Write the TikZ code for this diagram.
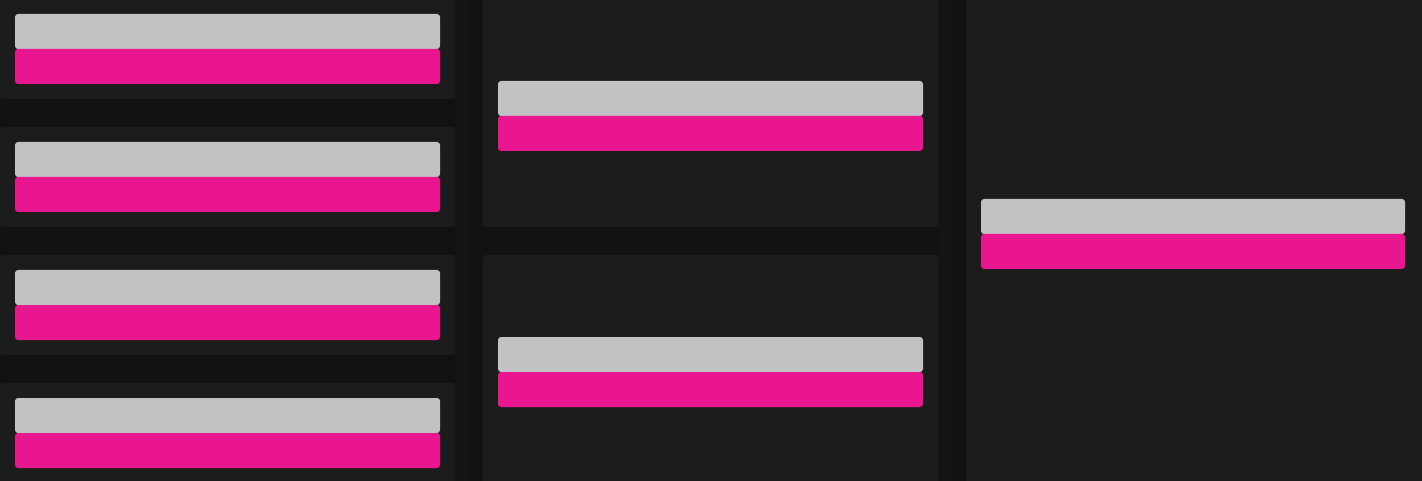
\documentclass[tikz,border=0pt]{standalone}
\definecolor{bgc}{HTML}{111111}
\definecolor{stripe}{HTML}{141414}
\definecolor{panelc}{HTML}{1C1C1C}
\definecolor{grayc}{HTML}{C1C2C4}
\definecolor{pinkc}{HTML}{E9168F}
\tikzset{
  panel/.style={fill=panelc, rounded corners=3pt, draw=none},
  graybar/.style={fill=grayc, rounded corners=3pt, draw=none, inner sep=0pt, outer sep=0pt, minimum height=35pt, anchor=north west},
  pinkbar/.style={fill=pinkc, rounded corners=3pt, draw=none, inner sep=0pt, outer sep=0pt, minimum height=35pt, anchor=north west},
}
\begin{document}
\begin{tikzpicture}[x=1pt,y=-1pt]
\useasboundingbox (0,0) rectangle (1422,481);
\fill[bgc] (0,0) rectangle (1422,481);
\fill[stripe] (455,0) rectangle (468,481);
\fill[stripe] (938,0) rectangle (951,481);
% left column panels
\foreach \i in {0,1,2,3}{
  \fill[panel] (0,{-1+128*\i}) rectangle (455,{99+128*\i});
}
% middle column panels
\fill[panel] (483,-5) rectangle (938,227);
\fill[panel] (483,255) rectangle (938,487);
% right column panel
\fill[panel] (966,-5) rectangle (1428,487);
% left bars
\node[graybar, minimum width=425pt] (g1) at (15,14) {};
\node[pinkbar, minimum width=425pt] (p1) at (15,49) {};
\node[graybar, minimum width=425pt] (g2) at (15,142) {};
\node[pinkbar, minimum width=425pt] (p2) at (15,177) {};
\node[graybar, minimum width=425pt] (g3) at (15,270) {};
\node[pinkbar, minimum width=425pt] (p3) at (15,305) {};
\node[graybar, minimum width=425pt] (g4) at (15,398) {};
\node[pinkbar, minimum width=425pt] (p4) at (15,433) {};
% middle bars
\node[graybar, minimum width=425pt] (g5) at (498,81) {};
\node[pinkbar, minimum width=425pt] (p5) at (498,116) {};
\node[graybar, minimum width=425pt] (g6) at (498,337) {};
\node[pinkbar, minimum width=425pt] (p6) at (498,372) {};
% right bars
\node[graybar, minimum width=424pt] (g7) at (981,199) {};
\node[pinkbar, minimum width=424pt] (p7) at (981,234) {};
\end{tikzpicture}
\end{document}
